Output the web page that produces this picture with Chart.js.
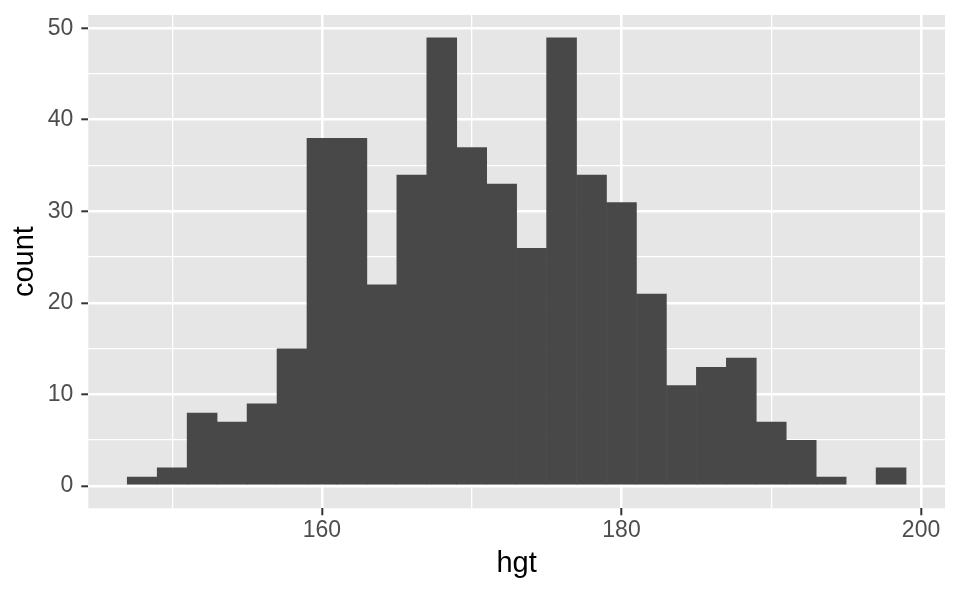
<!DOCTYPE html>
<html>
<head>
<meta charset="utf-8">
<script src="https://cdn.jsdelivr.net/npm/chart.js@4"></script>
<style>
  html, body { margin: 0; padding: 0; background: #ffffff; }
  #wrap { width: 960px; height: 593px; }
</style>
</head>
<body>
<div id="wrap"><canvas id="myChart" width="960" height="593"></canvas></div>
<script>
// histogram bins (centers, width 2) and counts
var binCenters = [148, 150, 152, 154, 156, 158, 160, 162, 164, 166, 168, 170, 172,
                  174, 176, 178, 180, 182, 184, 186, 188, 190, 192, 194, 196, 198];
var counts = [1, 2, 8, 7, 9, 15, 38, 38, 22, 34, 49, 37, 33,
              26, 49, 34, 31, 21, 11, 13, 14, 7, 5, 1, 0, 2];

// tick positions
var xMajorTicks = [160, 180, 200];
var xMinorTicks = [150, 170, 190];
var yMajorTicks = [0, 10, 20, 30, 40, 50];
var yMinorTicks = [5, 15, 25, 35, 45];

var fontFamily = "'Liberation Sans', Arial, Helvetica, sans-serif";

// panel background (ggplot grey)
var panelBg = {
  id: "panelBg",
  beforeDraw: function (chart) {
    var a = chart.chartArea;
    var c = chart.ctx;
    c.save();
    c.fillStyle = "#E6E6E6";
    c.fillRect(a.left, a.top, a.right - a.left, a.bottom - a.top);
    c.restore();
  },
};

function setTicks(major, minor) {
  return function (axis) {
    var all = major.concat(minor).sort(function (a, b) { return a - b; });
    axis.ticks = all.map(function (v) { return { value: v }; });
  };
}

function isMajor(list, c) {
  return !!(c && c.tick && list.indexOf(c.tick.value) !== -1);
}

// empty bins are left out (nothing to draw)
var points = binCenters.map(function (x, i) {
  return { x: x, y: counts[i] > 0 ? counts[i] : null };
});

var ctx = document.getElementById("myChart").getContext("2d");
var myChart = new Chart(ctx, {
  type: "bar",
  data: {
    datasets: [
      {
        label: "count",
        data: points,
        backgroundColor: "#484848",
        borderWidth: 0,
        barPercentage: 1.02, // slight overlap hides seams between bins
        categoryPercentage: 1.0,
      },
    ],
  },
  options: {
    responsive: false,
    animation: false,
    layout: { padding: { left: 0, right: 15, top: 15, bottom: 0 } },
    plugins: {
      legend: { display: false },
      tooltip: { enabled: false },
    },
    scales: {
      x: {
        type: "linear",
        min: 144.4,
        max: 201.6,
        offset: false,
        afterBuildTicks: setTicks(xMajorTicks, xMinorTicks),
        afterFit: function (axis) {
          axis.height = 84.7;
          axis.paddingLeft = 0;
          axis.paddingRight = 0;
        },
        border: { display: false },
        grid: {
          offset: false,
          color: "#FFFFFF",
          lineWidth: function (c) { return isMajor(xMajorTicks, c) ? 2.6 : 1.3; },
          drawTicks: true,
          tickLength: 7,
          tickWidth: 2,
          tickColor: function (c) { return isMajor(xMajorTicks, c) ? "#333333" : "rgba(0,0,0,0)"; },
        },
        ticks: {
          autoSkip: false,
          maxRotation: 0,
          padding: 2,
          color: "#4D4D4D",
          font: { family: fontFamily, size: 23 },
          callback: function (v) { return xMajorTicks.indexOf(v) !== -1 ? String(v) : ""; },
        },
        title: {
          display: true,
          text: "hgt",
          color: "#000000",
          font: { family: fontFamily, size: 29 },
          padding: { top: 0, bottom: 12 },
        },
      },
      y: {
        type: "linear",
        min: -2.45,
        max: 51.45,
        afterBuildTicks: setTicks(yMajorTicks, yMinorTicks),
        afterFit: function (axis) {
          axis.width = 88.3;
          axis.paddingTop = 0;
          axis.paddingBottom = 0;
        },
        border: { display: false },
        grid: {
          color: "#FFFFFF",
          lineWidth: function (c) { return isMajor(yMajorTicks, c) ? 2.6 : 1.3; },
          drawTicks: true,
          tickLength: 7,
          tickWidth: 2,
          tickColor: function (c) { return isMajor(yMajorTicks, c) ? "#333333" : "rgba(0,0,0,0)"; },
        },
        ticks: {
          autoSkip: false,
          padding: 8,
          color: "#4D4D4D",
          font: { family: fontFamily, size: 23 },
          callback: function (v) { return yMajorTicks.indexOf(v) !== -1 ? String(v) : ""; },
        },
        title: {
          display: true,
          text: "count",
          color: "#000000",
          font: { family: fontFamily, size: 29 },
          padding: { top: 8, bottom: 0 },
        },
      },
    },
  },
  plugins: [panelBg],
});
</script>
</body>
</html>
